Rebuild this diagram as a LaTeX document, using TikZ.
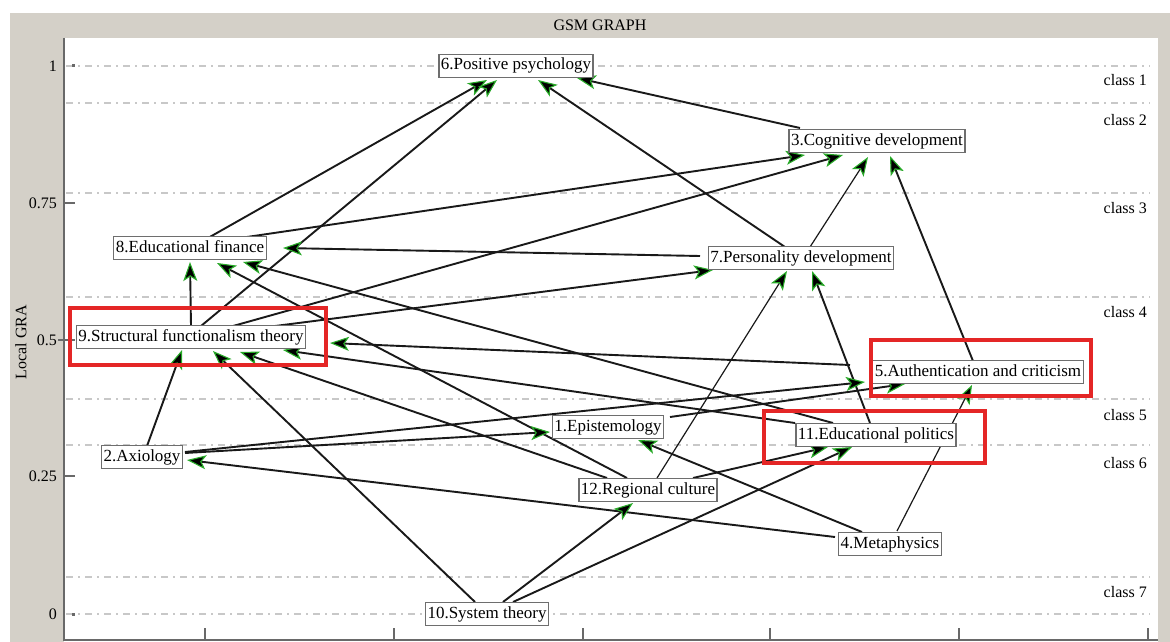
\documentclass[tikz,border=0pt]{standalone}
\usepackage{fontspec}
\setmainfont{Liberation Serif}
\usetikzlibrary{arrows.meta}
\definecolor{panelgray}{RGB}{212,208,200}
\definecolor{gridgray}{RGB}{200,200,200}
\definecolor{axisgray}{RGB}{105,105,105}
\definecolor{boxgray}{RGB}{110,110,110}
\definecolor{edgeblack}{RGB}{25,25,25}
\definecolor{arrowgreen}{RGB}{40,170,40}
\definecolor{markred}{RGB}{228,38,38}
\pgfdeclarelayer{back}
\pgfdeclarelayer{edges}
\pgfsetlayers{back,edges,main}
\newcommand{\nodefont}{\fontsize{17}{20}\selectfont}
\newcommand{\labelfont}{\fontsize{16}{19}\selectfont}
\tikzset{
  gnode/.style={draw=boxgray, line width=1.2pt, fill=white, inner xsep=2pt,
    inner ysep=3.5pt, text height=12pt, text depth=4pt, font=\nodefont},
  link/.style={-{Stealth[length=19pt,width=14pt,inset=4.5pt,fill=black,color=arrowgreen,line width=1.1pt]},
    line width=1.9pt, draw=edgeblack},
  thinlink/.style={link, line width=1.2pt},
  grid/.style={draw=gridgray, line width=1.2pt, dash pattern=on 7pt off 5pt on 2pt off 5pt},
  classlabel/.style={anchor=east, inner sep=0pt, font=\labelfont},
  ticklabel/.style={anchor=east, inner sep=0pt, font=\labelfont},
  redbox/.style={draw=markred, line width=4pt},
}
\begin{document}
\begin{tikzpicture}[x=1pt,y=-1pt]
\useasboundingbox (0,0) rectangle (1170,642);

% window frame, title band and plot area
\begin{pgfonlayer}{back}
  \fill[white] (0,0) rectangle (1170,642);
  \fill[panelgray] (10,13) rectangle (1170,642);
  \fill[white] (64,38) rectangle (1158,642);
  \node[font=\labelfont, inner sep=0pt] (title) at (600,25) {GSM GRAPH};
  % class boundaries
  \foreach \yy in {66,103,193,297,399,445,577,614}
    \draw[grid] (66,\yy) -- (1150,\yy);
  % axes
  \draw[axisgray, line width=2pt] (64,38) -- (64,641);
  \draw[axisgray, line width=2pt] (63,640) -- (1158,640);
  \foreach \xx in {205,394,583,770,959,1148}
    \draw[axisgray, line width=1.5pt] (\xx,628) -- (\xx,640);
  \foreach \yy in {203,476}
    \draw[axisgray, line width=1.5pt] (64,\yy) -- (75,\yy);
  \draw[axisgray, line width=1.5pt] (58,340) -- (75,340);
  \fill[axisgray] (71.5,64.5) rectangle (74.5,67.5);
  \fill[axisgray] (71.5,612.5) rectangle (74.5,615.5);
  \node[ticklabel] (t1) at (57,66) {1};
  \node[ticklabel] (t075) at (57,203) {0.75};
  \node[ticklabel] (t05) at (57,340) {0.5};
  \node[ticklabel] (t025) at (57,476) {0.25};
  \node[ticklabel] (t0) at (57,614) {0};
  \node[font=\labelfont, rotate=90, inner sep=0pt] (ylab) at (21,342) {Local GRA};
  \node[classlabel] (c1) at (1147,80) {class 1};
  \node[classlabel] (c2) at (1147,120) {class 2};
  \node[classlabel] (c3) at (1147,208) {class 3};
  \node[classlabel] (c4) at (1147,312) {class 4};
  \node[classlabel] (c5) at (1147,415) {class 5};
  \node[classlabel] (c6) at (1147,463) {class 6};
  \node[classlabel] (c7) at (1147,592) {class 7};
\end{pgfonlayer}

% factors
\node[gnode] (n6)  at (516,66)  {6.Positive psychology};
\node[gnode] (n3)  at (877,141) {3.Cognitive development};
\node[gnode] (n8)  at (190,248) {8.Educational finance};
\node[gnode] (n7)  at (801,258) {7.Personality development};
\node[gnode] (n9)  at (191,337) {9.Structural functionalism theory};
\node[gnode] (n5)  at (978,372) {5.Authentication and criticism};
\node[gnode] (n1)  at (608,427) {1.Epistemology};
\node[gnode] (n11) at (876,435) {11.Educational politics};
\node[gnode] (n2)  at (142,457) {2.Axiology};
\node[gnode] (n12) at (648,490) {12.Regional culture};
\node[gnode] (n4)  at (890,544) {4.Metaphysics};
\node[gnode] (n10) at (487,614) {10.System theory};

% influence relations
\begin{pgfonlayer}{edges}
  \draw[link] ([shift={(18,-10)}]n8.center)  -- ([shift={(-29,14)}]n6.center);
  \draw[link] ([shift={(10,-11)}]n9.center)  -- ([shift={(-19,14)}]n6.center);
  \draw[link] ([shift={(-16,-11)}]n7.center) -- ([shift={(22,14)}]n6.center);
  \draw[link] ([shift={(-77,-13)}]n3.center) -- ([shift={(61,12)}]n6.center);
  \draw[link] ([shift={(50,-10)}]n8.center)  -- ([shift={(-72,14)}]n3.center);
  \draw[link] ([shift={(42,-11)}]n9.center)  -- ([shift={(-34,14)}]n3.center);
  \draw[thinlink] ([shift={(9,-11)}]n7.center) -- ([shift={(-9,16)}]n3.center);
  \draw[link] ([shift={(-5,-11)}]n5.center)  -- ([shift={(13,15)}]n3.center);
  \draw[link] ([shift={(0,-11)}]n9.center)   -- ([shift={(0,14)}]n8.center);
  \draw[link] ([shift={(-101,-2)}]n7.center) -- ([shift={(93,0)}]n8.center);
  \draw[link] ([shift={(-21,-12)}]n12.center) -- ([shift={(27,15)}]n8.center);
  \draw[link] ([shift={(-43,-12)}]n11.center) -- ([shift={(53,14)}]n8.center);
  \draw[link] ([shift={(84,-11)}]n9.center)  -- ([shift={(-88,12)}]n7.center);
  \draw[thinlink] ([shift={(9,-12)}]n12.center) -- ([shift={(-14,13)}]n7.center);
  \draw[link] ([shift={(-6,-12)}]n11.center) -- ([shift={(11,13)}]n7.center);
  \draw[link] ([shift={(5,-11)}]n2.center)   -- ([shift={(-9,13)}]n9.center);
  \draw[link] ([shift={(-12,-12)}]n10.center) -- ([shift={(22,14)}]n9.center);
  \draw[link] ([shift={(-41,-12)}]n12.center) -- ([shift={(49,15)}]n9.center);
  \draw[link] ([shift={(-81,-12)}]n11.center) -- ([shift={(92,13)}]n9.center);
  \draw[link] ([shift={(-128,-7)}]n5.center) -- ([shift={(139,6)}]n9.center);
  \draw[link] ([shift={(43,-5)}]n2.center)   -- ([shift={(-113,10)}]n5.center);
  \draw[link] ([shift={(62,-10)}]n1.center)  -- ([shift={(-73,12)}]n5.center);
  \draw[thinlink] ([shift={(7,-13)}]n4.center) -- ([shift={(-6,13)}]n5.center);
  \draw[link] ([shift={(43,-4)}]n2.center)   -- ([shift={(-58,5)}]n1.center);
  \draw[link] ([shift={(-28,-12)}]n4.center) -- ([shift={(30,13)}]n1.center);
  \draw[link] ([shift={(-55,-7)}]n4.center)  -- ([shift={(45,3)}]n2.center);
  \draw[link] ([shift={(16,-12)}]n10.center) -- ([shift={(-15,13)}]n12.center);
  \draw[link] ([shift={(45,-12)}]n12.center) -- ([shift={(-48,12)}]n11.center);
  \draw[link] ([shift={(26,-12)}]n10.center) -- ([shift={(-24,12)}]n11.center);
\end{pgfonlayer}

% highlighted factors
\draw[redbox] ([shift={(-121,-29)}]n9.center) rectangle ([shift={(135,28)}]n9.center);
\draw[redbox] ([shift={(-107,-32)}]n5.center) rectangle ([shift={(113,24)}]n5.center);
\draw[redbox] ([shift={(-112,-24)}]n11.center) rectangle ([shift={(109,28)}]n11.center);
\end{tikzpicture}
\end{document}
